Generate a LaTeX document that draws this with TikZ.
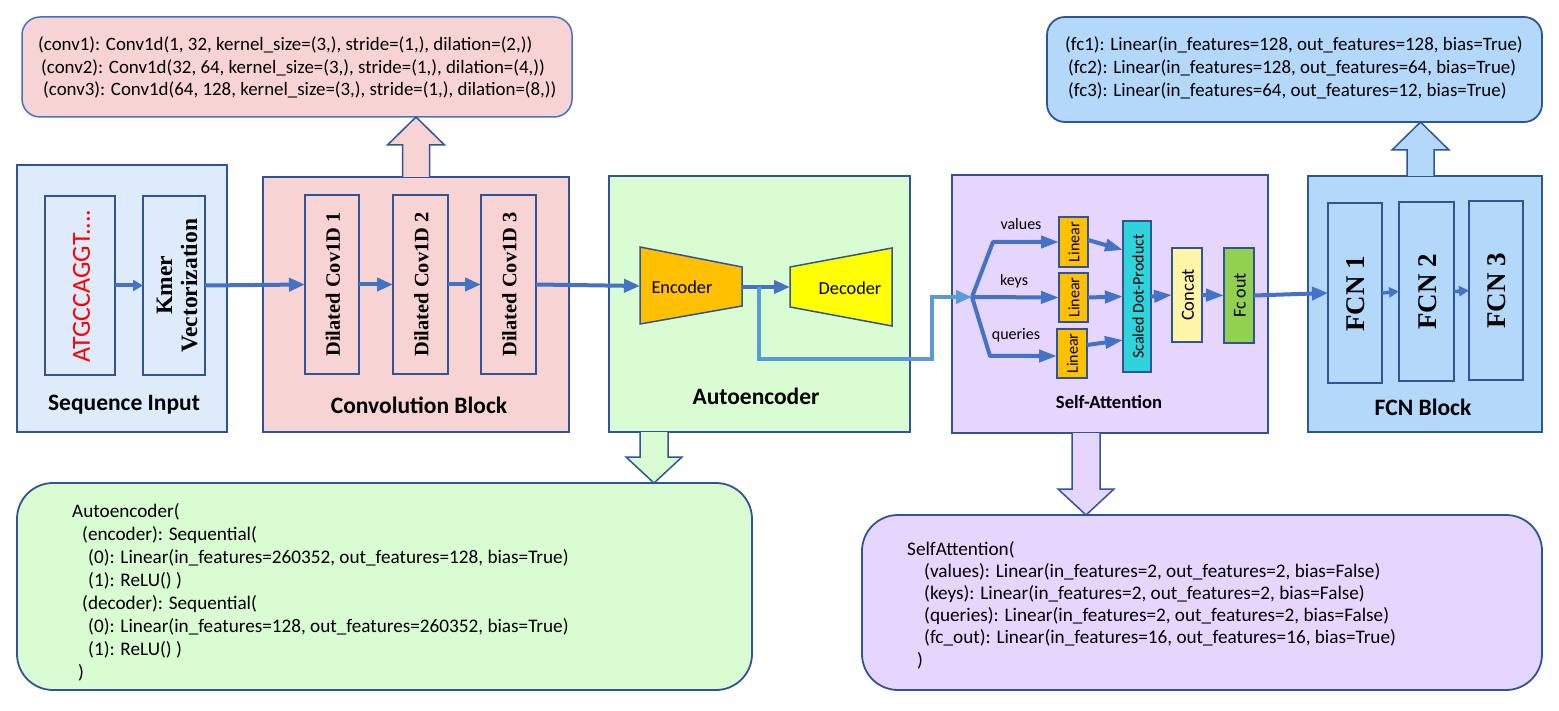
\documentclass[tikz,border=0pt]{standalone}
\usepackage{fontspec}
\setmainfont{Carlito}
\newfontfamily\tnr{Liberation Serif}
\usetikzlibrary{arrows.meta,calc}
\definecolor{bord}{HTML}{2F5597}
\definecolor{arr}{HTML}{4472C4}
\definecolor{arrlight}{HTML}{5B9BD5}
\definecolor{seqfill}{HTML}{DEEBFA}
\definecolor{convfill}{HTML}{F8D3D3}
\definecolor{aefill}{HTML}{DAFCD3}
\definecolor{safill}{HTML}{E6D5FC}
\definecolor{fcnfill}{HTML}{B4D8FA}
\definecolor{encfill}{HTML}{FFC000}
\definecolor{decfill}{HTML}{FFFF00}
\definecolor{sdpfill}{HTML}{2ED3DB}
\definecolor{catfill}{HTML}{FFF5A8}
\definecolor{fcofill}{HTML}{92D050}
\definecolor{dnared}{HTML}{FF0000}
\newcommand\blkup[3]{\filldraw[fill=#1,draw=bord,line width=1.5pt] let \p1=#2, \p2=#3 in
  ({\x1-13.5pt},{\y1}) -- ({\x1-13.5pt},{\y2-28pt}) -- ({\x1-28.5pt},{\y2-28pt}) -- ({\x1},{\y2})
  -- ({\x1+28.5pt},{\y2-28pt}) -- ({\x1+13.5pt},{\y2-28pt}) -- ({\x1+13.5pt},{\y1});}
\newcommand\blkdown[3]{\filldraw[fill=#1,draw=bord,line width=1.5pt] let \p1=#2, \p2=#3 in
  ({\x1-14pt},{\y1}) -- ({\x1-14pt},{\y2+26pt}) -- ({\x1-28pt},{\y2+26pt}) -- ({\x1},{\y2})
  -- ({\x1+28pt},{\y2+26pt}) -- ({\x1+14pt},{\y2+26pt}) -- ({\x1+14pt},{\y1});}
\begin{document}
\begin{tikzpicture}[x=1pt,y=-1pt,
  blk/.style={draw=bord,line width=2pt,inner sep=0pt,outer sep=0pt},
  info/.style={draw=bord,line width=1.8pt,inner sep=0pt,outer sep=0pt},
  code/.style={anchor=west,inner sep=0pt,font=\fontsize{18.9}{23}\selectfont},
  bcode/.style={anchor=west,inner sep=0pt,font=\fontsize{19.2}{23}\selectfont},
  lbl/.style={inner sep=0pt,font=\fontsize{23.5}{28}\selectfont\bfseries},
  serifv/.style={rotate=90,inner sep=0pt,font=\fontsize{20.4}{24}\selectfont\tnr\bfseries},
  fcnv/.style={rotate=90,inner sep=0pt,font=\fontsize{27}{30}\selectfont\tnr\bfseries},
  small/.style={inner sep=0pt,font=\fontsize{16}{19}\selectfont},
  flow/.style={draw=arr,line width=4pt,-{Triangle[length=16pt,width=13pt]}},
  flowS/.style={draw=arr,line width=4pt,-{Triangle[length=10pt,width=11pt]}},
  flowF/.style={draw=arr,line width=3.5pt,-{Triangle[length=10pt,width=10pt]}},
  saflow/.style={draw=arr,line width=4pt,line join=round,-{Triangle[length=18pt,width=12pt]}},
  branch/.style={draw=arrlight,line width=4pt,line join=miter,-{Triangle[length=16pt,width=13pt]}}
]
\fill[white] (0,0) rectangle (1559,711);
\useasboundingbox (0,0) rectangle (1559,711);

% ---------- top info boxes ----------
\node[info,draw=arr,line width=1.5pt,fill=convfill,rounded corners=18pt,minimum width=550pt,minimum height=100pt] (convp) at (297,67) {};
\node[code] (cp1) at (38,45) {(conv1): Conv1d(1, 32, kernel\_size=(3,), stride=(1,), dilation=(2,))};
\node[code] (cp2) at (41,68) {(conv2): Conv1d(32, 64, kernel\_size=(3,), stride=(1,), dilation=(4,))};
\node[code] (cp3) at (43,90) {(conv3): Conv1d(64, 128, kernel\_size=(3,), stride=(1,), dilation=(8,))};

\node[info,fill=fcnfill,rounded corners=18pt,minimum width=495pt,minimum height=105pt] (fcnp) at (1294.5,69.5) {};
\node[code] (fp1) at (1065,45) {(fc1): Linear(in\_features=128, out\_features=128, bias=True)};
\node[code] (fp2) at (1068,68) {(fc2): Linear(in\_features=128, out\_features=64, bias=True)};
\node[code] (fp3) at (1068,91) {(fc3): Linear(in\_features=64, out\_features=12, bias=True)};

% ---------- bottom info boxes ----------
\node[info,fill=aefill,rounded corners=36pt,minimum width=735pt,minimum height=207pt] (aep) at (384.5,586.5) {};
\node[bcode] (ap1) at (72,512) {Autoencoder(};
\node[bcode] (ap2) at (82,535) {(encoder): Sequential(};
\node[bcode] (ap3) at (88,558) {(0): Linear(in\_features=260352, out\_features=128, bias=True)};
\node[bcode] (ap4) at (88,581) {(1): ReLU() )};
\node[bcode] (ap5) at (82,604) {(decoder): Sequential(};
\node[bcode] (ap6) at (88,627) {(0): Linear(in\_features=128, out\_features=260352, bias=True)};
\node[bcode] (ap7) at (88,650) {(1): ReLU() )};
\node[bcode] (ap8) at (78,673) {)};

\node[info,fill=safill,rounded corners=36pt,minimum width=680pt,minimum height=175pt] (sap) at (1202,602.5) {};
\node[bcode] (sp1) at (907,550) {SelfAttention(};
\node[bcode] (sp2) at (924,572) {(values): Linear(in\_features=2, out\_features=2, bias=False)};
\node[bcode] (sp3) at (924,594) {(keys): Linear(in\_features=2, out\_features=2, bias=False)};
\node[bcode] (sp4) at (924,616) {(queries): Linear(in\_features=2, out\_features=2, bias=False)};
\node[bcode] (sp5) at (924,638) {(fc\_out): Linear(in\_features=16, out\_features=16, bias=True)};
\node[bcode] (sp6) at (917,661) {)};

% ---------- main blocks ----------
\node[blk,fill=seqfill,minimum width=210pt,minimum height=267pt] (seq) at (122,298.5) {};
\node[blk,fill=convfill,minimum width=306pt,minimum height=255pt] (conv) at (416,304.5) {};
\node[blk,fill=aefill,minimum width=301pt,minimum height=256pt] (ae) at (759.5,304) {};
\node[blk,fill=safill,minimum width=316pt,minimum height=258pt] (sa) at (1110,304) {};
\node[blk,fill=fcnfill,minimum width=234pt,minimum height=256pt] (fcn) at (1425,304) {};

% block arrows
\blkup{convfill}{(conv.north)}{(convp.south)}
\blkup{fcnfill}{($(fcn.north)+(-4.5,0)$)}{(fcnp.south)}
\blkdown{aefill}{($(ae.south)+(-105.5,0)$)}{(aep.north)}
\blkdown{safill}{($(sa.south)+(-24,0)$)}{(sap.north)}

% block labels
\node[lbl] (seqlbl) at (124,405) {Sequence Input};
\node[lbl] (convlbl) at (419,405) {Convolution Block};
\node[lbl] (aelbl) at (756,396) {Autoencoder};
\node[inner sep=0pt,font=\fontsize{18.6}{22}\selectfont\bfseries] (salbl) at (1109,402) {Self-Attention};
\node[lbl] (fcnlbl) at (1423,407) {FCN Block};

% sequence input
\node[blk,minimum width=70pt,minimum height=179pt] (atgc) at (80,285.5) {};
\node[rotate=90,inner sep=0pt,text=dnared,font=\fontsize{26}{30}\selectfont] (atgct) at (81.5,286) {ATGCCAGGT....};
\node[blk,minimum width=62pt,minimum height=179pt] (kmer) at (174,285.5) {};
\node[rotate=90,inner sep=0pt,align=center,font=\fontsize{23.5}{25}\selectfont\tnr\bfseries] (kmert) at (177,285.5) {Kmer\\Vectorization};

% convolution block
\node[blk,minimum width=54pt,minimum height=179pt] (d1) at (332,284.5) {};
\node[blk,minimum width=55pt,minimum height=179pt] (d2) at (420.5,284.5) {};
\node[blk,minimum width=55pt,minimum height=179pt] (d3) at (508.5,284.5) {};
\node[serifv] (d1t) at (333,284.5) {Dilated Cov1D 1};
\node[serifv] (d2t) at (421.5,284.5) {Dilated Cov1D 2};
\node[serifv] (d3t) at (509.5,284.5) {Dilated Cov1D 3};

% autoencoder
\draw[draw=bord,line width=1.5pt,fill=encfill] (640,247) -- (742,267) -- (742,306) -- (640,324) -- cycle;
\draw[draw=bord,line width=1.5pt,fill=decfill] (790,267) -- (892,248) -- (892,326) -- (790,307) -- cycle;
\node[inner sep=0pt,font=\fontsize{18.3}{22}\selectfont] (enc) at (682,287) {Encoder};
\node[inner sep=0pt,font=\fontsize{18.3}{22}\selectfont] (dec) at (850,288) {Decoder};
\coordinate (encW) at (640,286);
\coordinate (encE) at (742,287);
\coordinate (decW) at (790,287);
\coordinate (split) at (759,287);
\coordinate (sbend) at (932,359);
\coordinate (fork) at (972,297);

% self-attention
\node[blk,line width=1.5pt,fill=encfill,minimum width=29pt,minimum height=50pt] (lv) at (1073.5,242) {};
\node[blk,line width=1.5pt,fill=encfill,minimum width=29pt,minimum height=49pt] (lk) at (1073.5,297.5) {};
\node[blk,line width=1.5pt,fill=encfill,minimum width=30pt,minimum height=49pt] (lq) at (1072,353.5) {};
\node[small,rotate=90] (lvt) at (1074,242) {Linear};
\node[small,rotate=90] (lkt) at (1074,297.5) {Linear};
\node[small,rotate=90] (lqt) at (1072.5,353.5) {Linear};
\node[blk,line width=1.5pt,fill=sdpfill,minimum width=28pt,minimum height=151pt] (sdp) at (1137,296.5) {};
\node[small,rotate=90] (sdpt) at (1138,296.5) {Scaled Dot-Product};
\node[blk,line width=1.5pt,fill=catfill,minimum width=30pt,minimum height=94pt] (cat) at (1187,295) {};
\node[rotate=90,inner sep=0pt,font=\fontsize{18.5}{22}\selectfont] (catt) at (1188,295) {Concat};
\node[blk,line width=1.5pt,fill=fcofill,minimum width=30pt,minimum height=95pt] (fco) at (1239,295.5) {};
\node[rotate=90,inner sep=0pt,font=\fontsize{18}{22}\selectfont] (fcot) at (1240,295.5) {Fc out};
\node[small] (vlab) at (1021,224) {values};
\node[small] (klab) at (1014,281) {keys};
\node[small] (qlab) at (1016,335) {queries};

% FCN block
\node[blk,minimum width=54pt,minimum height=180pt] (f1) at (1355,293) {};
\node[blk,minimum width=55pt,minimum height=179pt] (f2) at (1426.5,291.5) {};
\node[blk,minimum width=54pt,minimum height=179pt] (f3) at (1496,290.5) {};
\node[fcnv] (f1t) at (1356,294) {FCN 1};
\node[fcnv] (f2t) at (1427.5,292) {FCN 2};
\node[fcnv] (f3t) at (1497,291) {FCN 3};

% ---------- connectors ----------
\draw[flowS] (atgc.east) -- (kmer.west);
\draw[flow] (kmer.east) -- (d1.west);
\draw[flow] (d1.east) -- (d2.west);
\draw[flow] (d2.east) -- (d3.west);
\draw[flow] (d3.east) -- (encW);
\draw[flow] (encE) -- (decW);
\draw[branch] (split) |- (sbend) |- (fork);
\draw[saflow] (fork) -- (993,242) -- (lv.west);
\draw[saflow] (fork) -- (lk.west);
\draw[saflow] (fork) -- (990,356) -- ($(lq.west)+(0,2.5)$);
\draw[saflow] ($(lv.east)+(0,-2)$) -- ($(sdp.west)+(0,-46.5)$);
\draw[saflow] (lk.east) -- (sdp.west);
\draw[saflow] ($(lq.east)+(0,-8.5)$) -- ($(sdp.west)+(0,43.5)$);
\draw[saflow] (sdp.east) -- (cat.west);
\draw[saflow] (cat.east) -- (fco.west);
\draw[flow] (fco.east) -- (f1.west);
\draw[flowF] (f1.east) -- (f2.west);
\draw[flowF] (f2.east) -- (f3.west);
\end{tikzpicture}
\end{document}
